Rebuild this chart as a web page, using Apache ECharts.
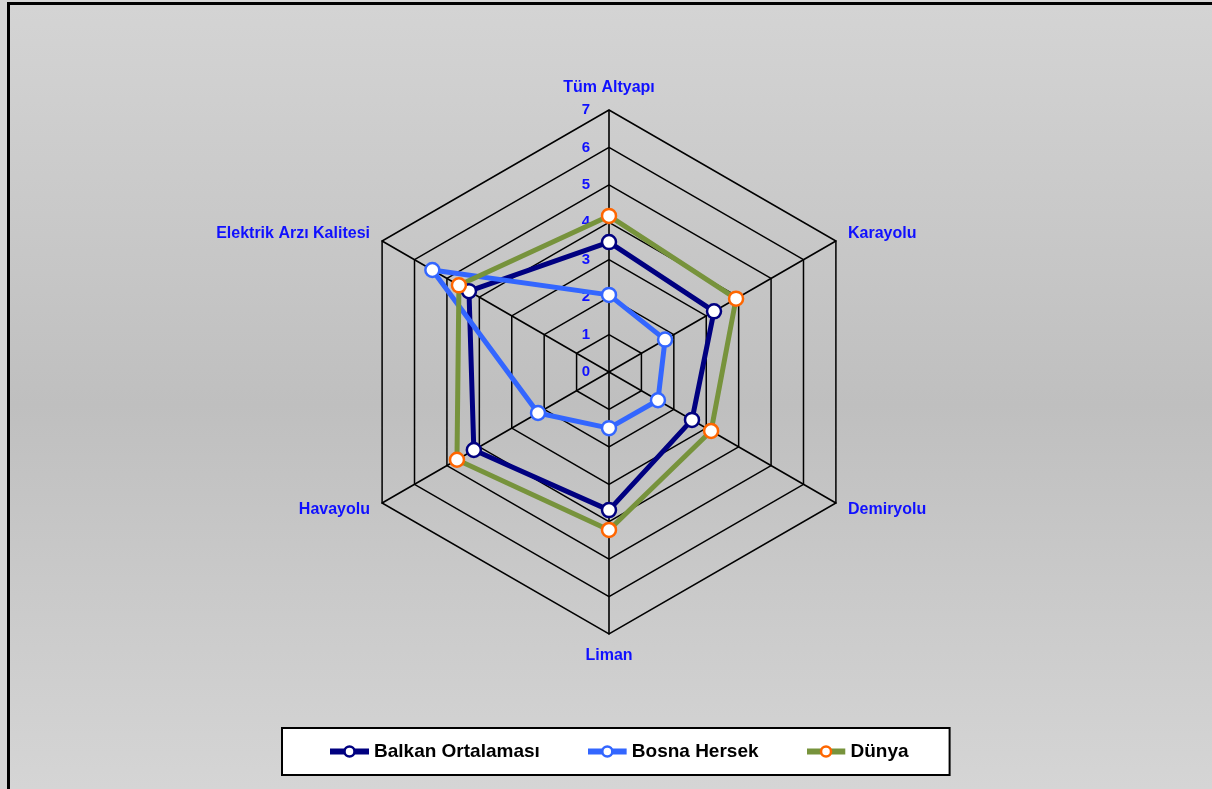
<!DOCTYPE html>
<html>
<head>
<meta charset="utf-8">
<script src="https://cdn.jsdelivr.net/npm/echarts@6/dist/echarts.min.js"></script>
<style>
    html, body { margin: 0; padding: 0; }
    body {
        width: 1212px; height: 789px; overflow: hidden;
        background: #d6d6d6;
        position: relative;
    }
    #frame {
        position: absolute; left: 7px; top: 2px; width: 1220px; height: 800px;
        border: 3px solid #000;
        background: linear-gradient(#d4d4d4, #bfbfbf 50%, #d6d6d6);
    }
    #chart { position: absolute; left: 0; top: 0; width: 1212px; height: 789px; }
</style>
</head>
<body>
<div id="frame"></div>
<div id="chart"></div>
<script>
    // eksenler (saat yönünün tersine, ECharts radar sırası)
    var categories = ['Tüm Altyapı', 'Elektrik Arzı Kalitesi', 'Havayolu', 'Liman', 'Demiryolu', 'Karayolu'];
    var balkanValues = [3.47, 4.32, 4.17, 3.69, 2.56, 3.24];
    var bosnaValues = [2.06, 5.45, 2.19, 1.5, 1.51, 1.73];
    var dunyaValues = [4.17, 4.63, 4.69, 4.22, 3.15, 3.92];
    var seriesNames = ['Balkan Ortalaması', 'Bosna Hersek', 'Dünya'];
    var axisMax = 7;

    var lineColors = ['#000080', '#3366ff', '#77933c'];
    var markerColors = ['#000080', '#3366ff', '#ff6600'];

    var chart = echarts.init(document.getElementById('chart'));

    var indicator = categories.map(function (name, i) {
        var item = {name: name, min: 0, max: axisMax};
        if (i === 0) {
            //sadece ilk eksende sayılar
            item.axisLabel = {show: true};
        }
        return item;
    });

    //lejant simgesi: çizgi + halka
    function legendIcon(line, ring) {
        var svg = '<svg xmlns="http://www.w3.org/2000/svg" width="39" height="14">' +
            '<line x1="0" y1="7" x2="39" y2="7" stroke="' + line + '" stroke-width="6"/>' +
            '<circle cx="19.5" cy="7" r="5" fill="#fff" stroke="' + ring + '" stroke-width="2.5"/></svg>';
        return 'image://data:image/svg+xml;charset=utf-8,' + encodeURIComponent(svg);
    }

    function makeSeries(i, values) {
        return {
            name: seriesNames[i],
            type: 'radar',
            symbol: 'circle',
            symbolSize: 14,
            lineStyle: {color: lineColors[i], width: 5},
            itemStyle: {color: '#ffffff', borderColor: markerColors[i], borderWidth: 2.5},
            data: [{value: values, name: seriesNames[i]}]
        };
    }

    chart.setOption({
        animation: false,
        textStyle: {fontFamily: 'Liberation Sans, Arial, sans-serif'},
        legend: {
            data: seriesNames.map(function (n, i) {
                return {name: n, icon: legendIcon(lineColors[i], markerColors[i])};
            }),
            left: 282,
            top: 728,
            orient: 'horizontal',
            backgroundColor: '#ffffff',
            borderColor: '#000000',
            borderWidth: 2,
            borderRadius: 0,
            padding: [14, 41, 14, 48],
            itemGap: 48,
            itemWidth: 39,
            itemHeight: 14,
            textStyle: {fontSize: 19, fontWeight: 'bold', color: '#000000'}
        },
        radar: {
            center: [609, 372],
            radius: 262,
            startAngle: 90,
            splitNumber: 7,
            shape: 'polygon',
            indicator: indicator,
            nameGap: 14,
            axisName: {color: '#1010ff', fontWeight: 'bold', fontSize: 16},
            axisLine: {lineStyle: {color: '#000000', width: 1.6}},
            splitLine: {lineStyle: {color: '#000000', width: 1.5}},
            splitArea: {show: false},
            axisTick: {show: false},
            axisLabel: {
                show: false,
                color: '#1010ff',
                fontWeight: 'bold',
                fontSize: 15,
                margin: 19
            }
        },
        series: [
            makeSeries(0, balkanValues),
            makeSeries(1, bosnaValues),
            makeSeries(2, dunyaValues)
        ]
    });
</script>
</body>
</html>
